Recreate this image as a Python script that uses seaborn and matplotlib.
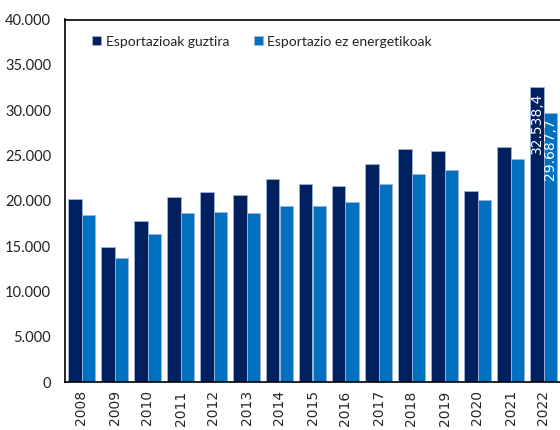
import pandas as pd
import seaborn as sns
import matplotlib.pyplot as plt

# Data (millions of euros)
years = ['2008', '2009', '2010', '2011', '2012', '2013', '2014', '2015',
         '2016', '2017', '2018', '2019', '2020', '2021', '2022']
total = [20200, 14870, 17800, 20400, 20940, 20600, 22440, 21800,
         21600, 24060, 25750, 25460, 21080, 25970, 32538.4]
non_energy = [18400, 13650, 16300, 18650, 18760, 18600, 19390, 19460,
              19830, 21820, 22960, 23430, 20090, 24600, 29687.7]
series_names = ['Esportazioak guztira', 'Esportazio ez energetikoak']
bar_colors = ['#002060', '#0070C0']
y_ticks = [0, 5000, 10000, 15000, 20000, 25000, 30000, 35000, 40000]
y_labels = ['0', '5.000', '10.000', '15.000', '20.000', '25.000',
            '30.000', '35.000', '40.000']

df = pd.DataFrame({'Urtea': years * 2,
                   'Balioa': total + non_energy,
                   'Seriea': [series_names[0]] * len(years) + [series_names[1]] * len(years)})

sns.set_style('white')
fig = plt.figure(figsize=(5.6, 4.3), dpi=100)
ax = fig.add_axes([65 / 560, 48 / 430, 495 / 560, 362.5 / 430])

sns.barplot(data=df, x='Urtea', y='Balioa', hue='Seriea', palette=bar_colors,
            saturation=1, width=0.8, edgecolor='#9fb4d8', linewidth=0.6, ax=ax)

ax.set_ylim(0, 40000)
ax.set_xlim(-0.5, len(years) - 0.5)
ax.set_yticks(y_ticks)
ax.set_yticklabels(y_labels, fontfamily='Lato', fontsize=10.5, color='#222222')
ax.tick_params(axis='y', length=0, pad=10)
ax.tick_params(axis='x', length=0, pad=6)
plt.setp(ax.get_xticklabels(), rotation=90, fontsize=10, fontfamily='DejaVu Sans')
ax.set_xlabel('')
ax.set_ylabel('')

for side in ['left', 'bottom', 'top']:
    ax.spines[side].set_color('black')
    ax.spines[side].set_linewidth(1.2)
ax.spines['right'].set_visible(False)

# value labels only on the last year, inside the bars
for cont in ax.containers:
    bar = cont.patches[-1]
    val = bar.get_height()
    txt = f'{val:,.1f}'.replace(',', 'X').replace('.', ',').replace('X', '.')
    ax.annotate(txt, (bar.get_x() + bar.get_width() / 2, val),
                xytext=(0, -4), textcoords='offset points',
                rotation=90, ha='center', va='top', color='white',
                fontsize=10, fontfamily='DejaVu Sans')

leg = ax.legend(loc='upper left', bbox_to_anchor=(0.03, 0.99), ncol=2,
                frameon=False, prop={'family': 'Lato', 'size': 10},
                handlelength=0.65, handleheight=0.65, handletextpad=0.3,
                columnspacing=1.8)
for t in leg.get_texts():
    t.set_color('#222222')

plt.savefig('out.png', dpi=100)
